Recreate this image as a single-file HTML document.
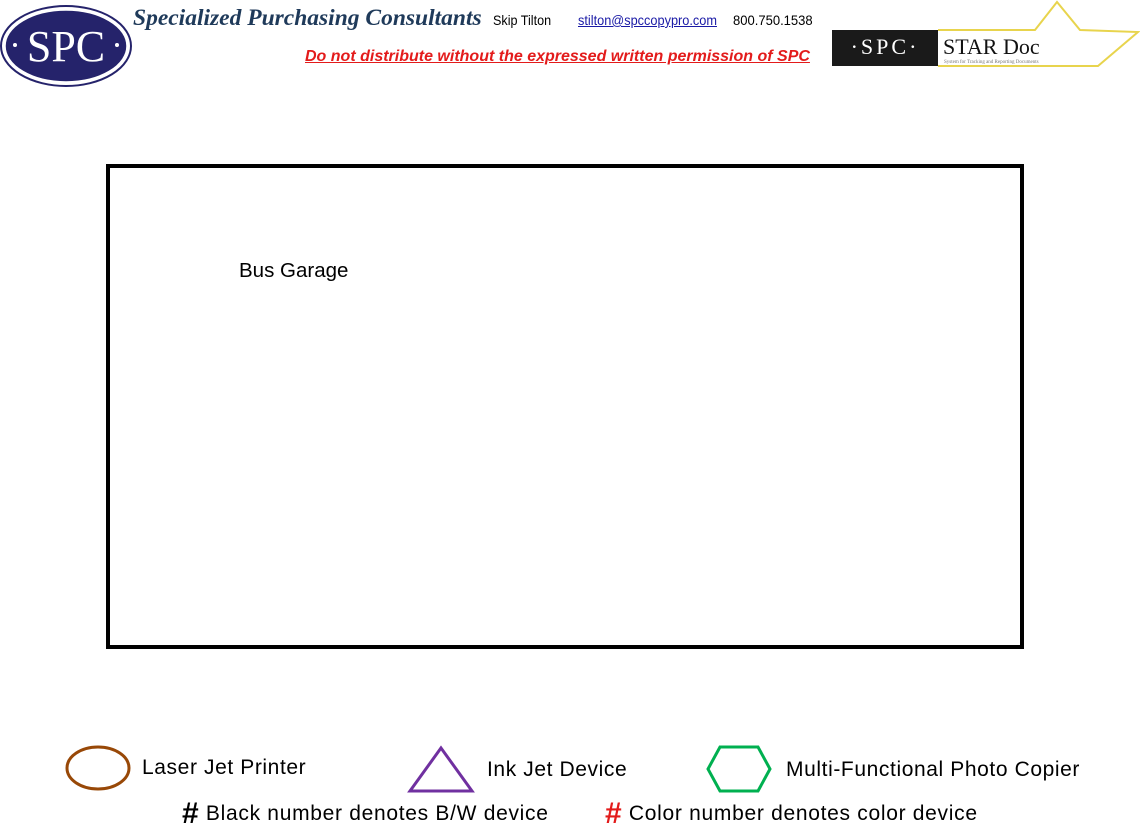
<!DOCTYPE html>
<html><head><meta charset="utf-8"><style>
body{margin:0;width:1140px;height:828px;background:#fff;position:relative;overflow:hidden;font-family:"Liberation Sans",sans-serif}
.a{position:absolute;white-space:nowrap}
.lg{font-size:21px;letter-spacing:0.6px}
</style></head><body>
<svg class="a" style="left:0;top:0" width="1140" height="828">
 <g>
  <ellipse cx="66" cy="46" rx="65" ry="40" fill="#fff" stroke="#25236b" stroke-width="2"/>
  <ellipse cx="66" cy="46" rx="61" ry="36" fill="#25236b" stroke="#fff" stroke-width="1.5"/>
  <text x="66" y="61" text-anchor="middle" font-family="Liberation Serif,serif" font-size="44" fill="#fff">SPC</text>
  <circle cx="15" cy="45" r="2" fill="#fff"/><circle cx="117" cy="45" r="2" fill="#fff"/>
 </g>
 <g>
  <polyline points="938,30 1035,30 1057,2 1080,30 1138,32 1098,66 938,66" fill="none" stroke="#e8d44d" stroke-width="2"/>
  <rect x="832" y="30" width="106" height="36" fill="#1a1a1a"/>
  <text x="885" y="54" text-anchor="middle" font-family="Liberation Serif,serif" font-size="22" fill="#fff" letter-spacing="3">·SPC·</text>
  <text x="943" y="54" font-family="Liberation Serif,serif" font-size="22" fill="#111">STAR Doc</text>
  <text x="944" y="63" font-family="Liberation Serif,serif" font-size="5" fill="#777">System for Tracking and Reporting Documents</text>
 </g>
 <rect x="108" y="166" width="914" height="481" fill="none" stroke="#000" stroke-width="4"/>
 <ellipse cx="98" cy="768" rx="31" ry="21" fill="none" stroke="#984807" stroke-width="3"/>
 <polygon points="441,748 472,791 410,791" fill="none" stroke="#7030a0" stroke-width="3"/>
 <polygon points="720,747 758,747 770,769 758,791 720,791 708,769" fill="none" stroke="#00b050" stroke-width="3"/>
</svg>
<div class="a" style="left:133px;top:5px;font-family:'Liberation Serif',serif;font-style:italic;font-weight:bold;font-size:23.5px;color:#1f3a5a">Specialized Purchasing Consultants</div>
<div class="a" style="left:493px;top:12px;font-size:14px;transform:scaleX(.9);transform-origin:left">Skip Tilton</div>
<div class="a" style="left:578px;top:12px;font-size:14px;color:#1a1aa6;text-decoration:underline;transform:scaleX(.91);transform-origin:left">stilton@spccopypro.com</div>
<div class="a" style="left:733px;top:12px;font-size:14px;transform:scaleX(.93);transform-origin:left">800.750.1538</div>
<div class="a" style="left:305px;top:48px;font-size:16px;font-weight:bold;font-style:italic;color:#e31b1b;text-decoration:underline">Do not distribute without the expressed written permission of SPC</div>
<div class="a" style="left:239px;top:259px;font-size:20.5px">Bus Garage</div>
<div class="a lg" style="left:142px;top:756px">Laser Jet Printer</div>
<div class="a lg" style="left:487px;top:758px">Ink Jet Device</div>
<div class="a lg" style="left:786px;top:758px">Multi-Functional Photo Copier</div>
<div class="a lg" style="left:182px;top:797px;letter-spacing:0.7px"><b style="font-size:30px;vertical-align:-3px">#</b> Black number denotes B/W device</div>
<div class="a lg" style="left:605px;top:797px;letter-spacing:0.7px"><b style="font-size:30px;color:#e31b1b;vertical-align:-3px">#</b> Color number denotes color device</div>
</body></html>
